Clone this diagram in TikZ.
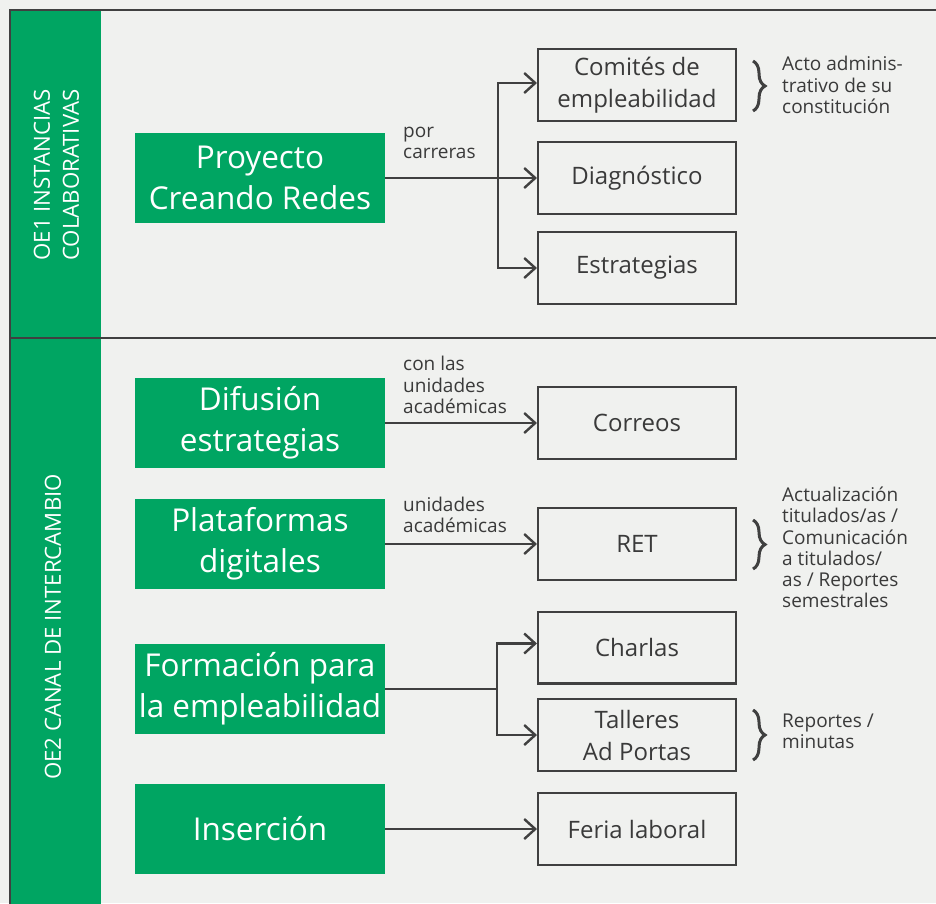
\documentclass[tikz,border=0pt]{standalone}
\usepackage{fontspec}
\setmainfont{Open Sans}
\usetikzlibrary{arrows.meta,decorations.pathreplacing}
\definecolor{bgc}{HTML}{F0F1EF}
\definecolor{grn}{HTML}{00A562}
\definecolor{drk}{HTML}{404040}
\definecolor{txt}{HTML}{3A3A3A}
\tikzset{
  greenbox/.style={fill=grn, text=white, minimum width=250pt, minimum height=90pt, inner sep=0pt, align=center, font=\fontsize{31.5}{41}\selectfont},
  outbox/.style={draw=drk, line width=2.3pt, fill=bgc, minimum width=197.7pt, minimum height=71.7pt, inner sep=0pt, align=center, font=\fontsize{24}{32}\selectfont, text=txt},
  note/.style={font=\fontsize{19}{21.3}\selectfont, text=txt, align=left, anchor=west, inner sep=0pt},
  sidelabel/.style={rotate=90, text=white, align=center, font=\fontsize{22.2}{29}\selectfont, inner sep=0pt},
  conn/.style={draw=drk, line width=2.4pt},
  arr/.style={conn, -{Straight Barb[length=11pt,width=20pt,line width=2.4pt]}},
  bracestyle/.style={draw=drk, line width=3pt, decorate, decoration={brace, amplitude=12pt}}
}
\begin{document}
\begin{tikzpicture}[x=1pt,y=-1pt]
\useasboundingbox (0,0) rectangle (936,903);
\clip (0,0) rectangle (936,903);
\fill[bgc] (0,0) rectangle (936,903);
% green column
\fill[grn] (10,10) rectangle (101,950);
% frame
\draw[drk, line width=2.5pt] (950,10) -- (10,10) -- (10,950);
\draw[drk, line width=2.5pt] (10,338) -- (950,338);
% side labels
\node[sidelabel] (oe1) at (56.5,175) {OE1 INSTANCIAS\\COLABORATIVAS};
\node[sidelabel] (oe2) at (53,627) {OE2 CANAL DE INTERCAMBIO};
% green boxes
\node[greenbox] (pcr) at (260,178) {Proyecto\\Creando Redes};
\node[greenbox] (dif) at (260,423) {Difusión\\estrategias};
\node[greenbox] (pla) at (260,544) {Plataformas\\digitales};
\node[greenbox] (for) at (260,689) {Formación para\\la empleabilidad};
\node[greenbox] (ins) at (260,829) {Inserción};
% right boxes
\node[outbox] (com) at (637,85) {Comités de\\empleabilidad};
\node[outbox] (dia) at (637,178) {Diagnóstico};
\node[outbox] (est) at (637,268) {Estrategias};
\node[outbox] (cor) at (637,423) {Correos};
\node[outbox] (ret) at (637,544) {RET};
\node[outbox] (cha) at (637,647.5) {Charlas};
\node[outbox] (tal) at (637,735) {Talleres\\Ad Portas};
\node[outbox] (fer) at (637,829) {Feria laboral};
% connectors
\coordinate (b1) at (498,178);
\draw[arr] (pcr.east) -- (dia.west);
\draw[arr] (b1) |- ([yshift=2pt]com.west);
\draw[arr] (b1) |- (est.west);
\draw[arr] (dif.east) -- (cor.west);
\draw[arr] (pla.east) -- (ret.west);
\coordinate (b2) at (497,689);
\draw[conn] (for.east) -- (b2);
\draw[arr] (b2) |- ([yshift=4pt]cha.west);
\draw[arr] (b2) |- (tal.west);
\draw[arr] (ins.east) -- (fer.west);
% connector labels
\node[note] (l1) at (403,143) {por\\carreras};
\node[note] (l2) at (403,385) {con las\\unidades\\académicas};
\node[note] (l3) at (403,515) {unidades\\académicas};
% braces
\coordinate (c1a) at (753,61); \coordinate (c1b) at (753,111);
\draw[bracestyle] (c1a) -- (c1b);
\coordinate (c2a) at (753,520); \coordinate (c2b) at (753,569);
\draw[bracestyle] (c2a) -- (c2b);
\coordinate (c3a) at (753,710); \coordinate (c3b) at (753,760);
\draw[bracestyle] (c3a) -- (c3b);
% notes
\node[note] (n1) at (782,85) {Acto adminis-\\trativo de su\\constitución};
\node[note] (n2) at (782,547.5) {Actualización\\titulados/as /\\Comunicación\\a titulados/\\as / Reportes\\semestrales};
\node[note] (n3) at (782,731.5) {Reportes /\\minutas};
\end{tikzpicture}
\end{document}
